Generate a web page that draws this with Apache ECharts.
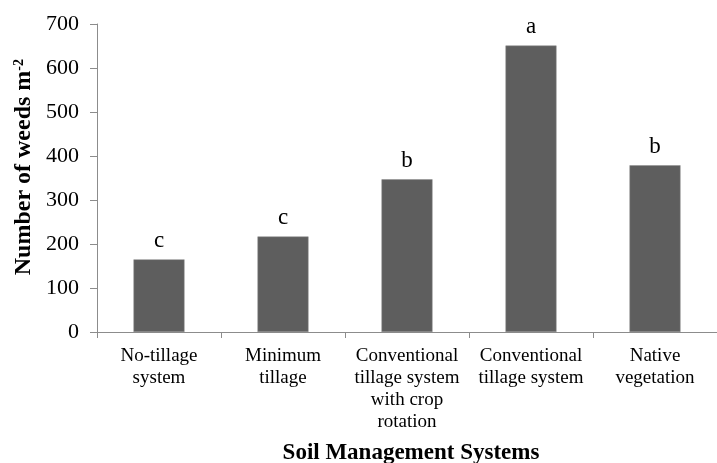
<!DOCTYPE html>
<html><head><meta charset="utf-8">
<script src="https://cdn.jsdelivr.net/npm/echarts@6/dist/echarts.min.js"></script>
<style>html,body{margin:0;padding:0;background:#fff;}#c{width:717px;height:463px;}</style>
</head><body><div id="c"></div>
<script>
const categories = ['No-tillage\nsystem', 'Minimum\ntillage', 'Conventional\ntillage system\nwith crop\nrotation', 'Conventional\ntillage system', 'Native\nvegetation'];
const weeds = [165, 217, 347, 651, 379];
const letters = ['c', 'c', 'b', 'a', 'b'];
const yTicks = [0, 100, 200, 300, 400, 500, 600, 700];

const serif = '"Liberation Serif", "Times New Roman", serif';
const chart = echarts.init(document.getElementById('c'), null, {renderer: 'canvas'});
chart.setOption({
  animation: false,
  backgroundColor: '#fff',
  grid: {left: 97, top: 24, bottom: 131, right: -3, containLabel: false},
  xAxis: {
    type: 'category', data: categories,
    axisLine: {lineStyle: {color: '#8c8c8c', width: 1}},
    axisTick: {show: true, length: 6, lineStyle: {color: '#8c8c8c'}},
    axisLabel: {color: '#000', fontFamily: serif, fontSize: 19, lineHeight: 22, margin: 13, interval: 0}
  },
  yAxis: {
    type: 'value', min: yTicks[0], max: yTicks[yTicks.length - 1], interval: 100,
    axisLine: {show: true, lineStyle: {color: '#8c8c8c', width: 1}},
    axisTick: {show: true, length: 7, lineStyle: {color: '#8c8c8c'}},
    splitLine: {show: false},
    axisLabel: {color: '#000', fontFamily: serif, fontSize: 22, margin: 18}
  },
  series: [{
    type: 'bar', data: weeds, barWidth: 51,
    itemStyle: {color: '#5e5e5e', borderColor: '#8a8a8a', borderWidth: 0.5},
    label: {show: true, position: 'top', distance: 7, color: '#000', fontFamily: serif, fontSize: 23,
      formatter: p => letters[p.dataIndex]}
  }],
  graphic: [
    {type: 'text', left: 12, top: 59, rotation: Math.PI / 2, originX: 0, originY: 0,
      style: {text: '{a|Number of weeds m}{s|-2}', rich: {
        a: {fontFamily: serif, fontSize: 24, fontWeight: 'bold', fill: '#000'},
        s: {fontFamily: serif, fontSize: 14, fontWeight: 'bold', fill: '#000', verticalAlign: 'top'}
      }}},
    {type: 'text', x: 411, y: 453,
      style: {text: 'Soil Management Systems', fontFamily: serif, fontSize: 23, fontWeight: 'bold', fill: '#000', align: 'center', verticalAlign: 'middle'}}
  ]
});
</script></body></html>
